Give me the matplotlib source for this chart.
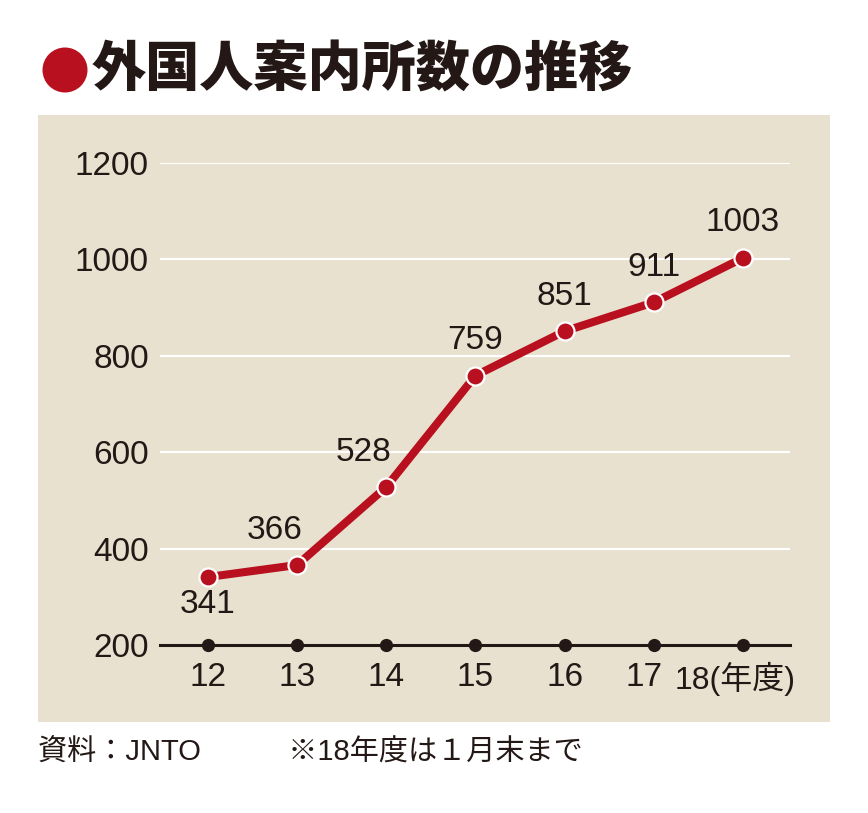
import matplotlib.pyplot as plt
from matplotlib.patches import Rectangle, Circle
from matplotlib.transforms import ScaledTranslation

plt.rcParams['font.family'] = ['Liberation Sans', 'Noto Sans CJK JP', 'DejaVu Sans']

years = ['12', '13', '14', '15', '16', '17', '18(年度)']
counts = [341, 366, 528, 759, 851, 911, 1003]
yticks = [200, 400, 600, 800, 1000, 1200]

red = '#B8101E'
ink = '#231815'
beige = '#E9E1CF'

fig = plt.figure(figsize=(8.68, 8.13), dpi=100)
fig.patch.set_facecolor('white')

# beige panel behind the chart
fig.patches.append(Rectangle((38 / 868, 1 - 722 / 813), 792 / 868, 607 / 813,
                             transform=fig.transFigure, facecolor=beige,
                             edgecolor='none', zorder=-5))
# title bullet
fig.patches.append(Circle((0.65, 7.43), 0.225, transform=fig.dpi_scale_trans,
                          facecolor=red, edgecolor='none', zorder=-4))
fig.text(92 / 868, 1 - 70 / 813, '外国人案内所数の推移', fontsize=39,
         fontweight='black', family=['Noto Sans CJK JP'], color=ink,
         va='center', ha='left')

ax = fig.add_axes([160 / 868, 1 - 645 / 813, 630 / 868, 482 / 813])
ax.set_facecolor('none')
x = list(range(len(years)))
ax.set_xlim(-0.538, 6.527)
ax.set_ylim(200, 1200)

for y in yticks[1:]:
    ax.axhline(y, color='white', lw=1.5, zorder=1)
ax.axhline(200, color=ink, lw=2.2, zorder=2, clip_on=False)
ax.plot(x, [200] * len(x), 'o', color=ink, ms=8.5, zorder=3, clip_on=False)

ax.plot(x, counts, '-', color=red, lw=5.8, zorder=4, solid_capstyle='butt')
ax.plot(x, counts, 'o', color=red, ms=13, mec='white', mew=1.6, zorder=5,
        clip_on=False)

for i, v in enumerate(counts):
    if i == 0:
        off = (0, -27)
    elif i in (1, 2):
        off = (-23, 34)
    else:
        off = (0, 35)
    ax.annotate(str(v), (i, v), xytext=off, textcoords='offset pixels',
                ha='center', va='center', fontsize=24, color=ink)

for s in ax.spines.values():
    s.set_visible(False)
ax.set_yticks(yticks)
ax.set_yticklabels([str(t) for t in yticks])
ax.set_xticks(x)
ax.set_xticklabels(years)
ax.tick_params(length=0, labelsize=24, labelcolor=ink)
ax.tick_params(axis='y', pad=8)
ax.tick_params(axis='x', pad=12)

# last two labels sit a little to the left so they don't collide
labels = ax.get_xticklabels()
labels[5].set_transform(labels[5].get_transform() + ScaledTranslation(-0.1, 0, fig.dpi_scale_trans))
labels[6].set_transform(labels[6].get_transform() + ScaledTranslation(-0.08, 0, fig.dpi_scale_trans))
labels[6].set_fontsize(23)

fig.text(38 / 868, 1 - 753 / 813, '資料：JNTO　　　※18年度は１月末まで',
         fontsize=21, color=ink, va='center', ha='left')

fig.savefig('out.png', dpi=100, facecolor='white')
